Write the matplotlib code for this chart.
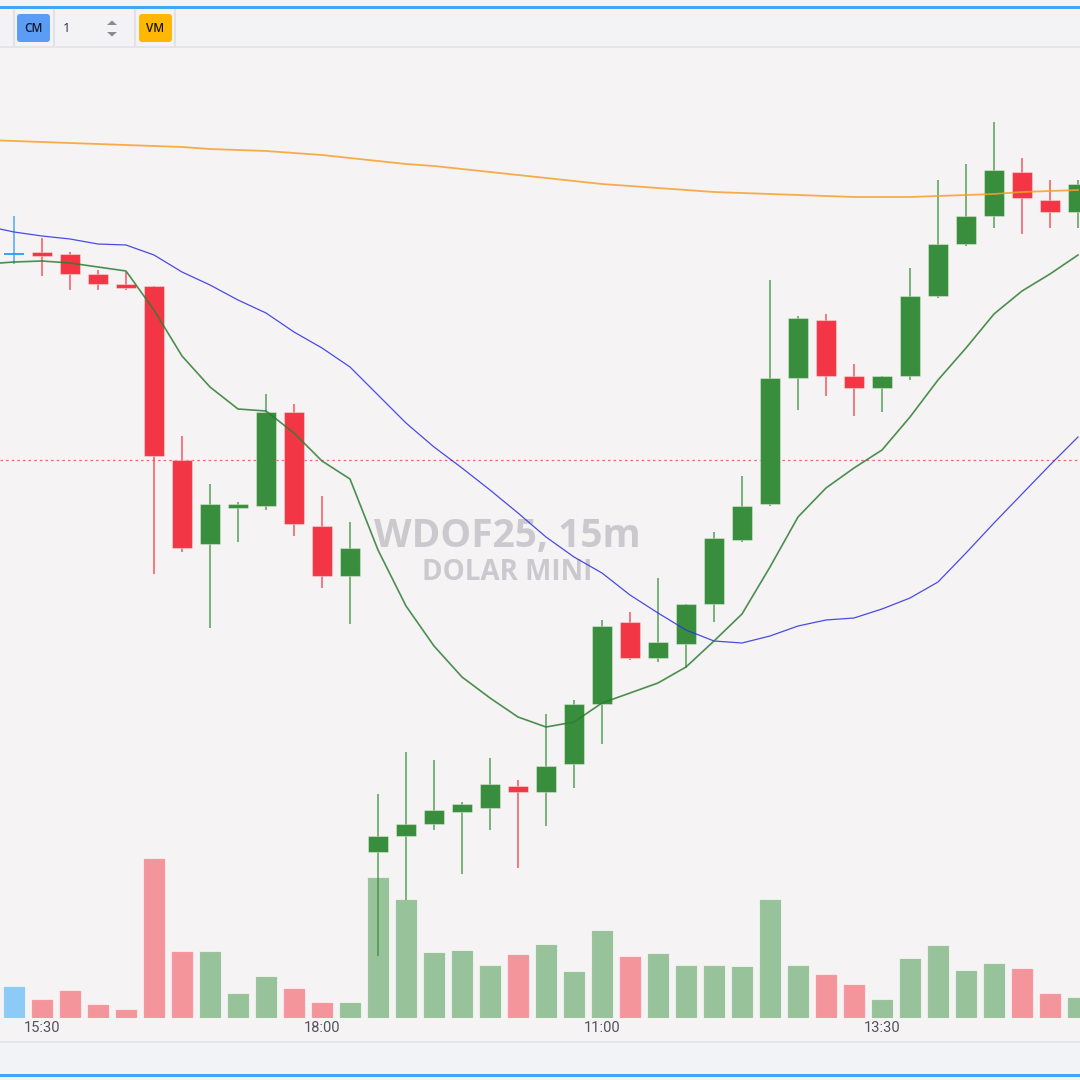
import matplotlib
matplotlib.use('Agg')
import matplotlib.pyplot as plt
from matplotlib.patches import Rectangle, FancyBboxPatch, Polygon
from matplotlib.lines import Line2D

# WDOF25 15m candles (open, high, low, close)
opens  = [6201.5, 6202, 6201.5, 6196.5, 6194, 6193.5, 6150, 6129, 6138, 6138.5,
          6162, 6133.5, 6121, 6052, 6056, 6059, 6062, 6063, 6068.5, 6067,
          6074, 6089, 6109.5, 6100.5, 6104, 6114, 6130, 6139, 6170.5, 6185,
          6171, 6168, 6171, 6191, 6204, 6211, 6222, 6215, 6212]
highs  = [6211, 6205.5, 6202, 6197.5, 6197, 6193.5, 6156, 6144, 6139.5, 6166.5,
          6164, 6141, 6134.5, 6066.5, 6077, 6075, 6064.5, 6075.5, 6070, 6086.5,
          6090, 6110, 6112, 6120.5, 6114, 6132, 6146, 6195, 6186, 6186.5,
          6174, 6171, 6198, 6220, 6224, 6234.5, 6225.5, 6220, 6220]
lows   = [6199, 6196, 6192.5, 6192.5, 6192.5, 6121.5, 6127, 6108, 6129.5, 6137.5,
          6131, 6118, 6109, 6026, 6040, 6057.5, 6046.5, 6057.5, 6048, 6058.5,
          6068, 6079, 6100, 6099.5, 6098, 6109.5, 6129.5, 6138.5, 6162.5, 6166,
          6161, 6162, 6170, 6190.5, 6203.5, 6208, 6206.5, 6208, 6208]
closes = [6201.5, 6201, 6196.5, 6194, 6193, 6151, 6128, 6139, 6139, 6162,
          6134, 6121, 6128, 6056, 6059, 6062.5, 6064, 6069, 6067, 6073.5,
          6089, 6108.5, 6100.5, 6104.5, 6114, 6130.5, 6138.5, 6170.5, 6185.5, 6171,
          6168, 6171, 6191, 6204, 6211, 6222.5, 6215.5, 6212, 6219]
volume = [32000, 19000, 28000, 14000, 9000, 160000, 67000, 67000, 25000, 42000,
          30000, 16000, 16000, 141000, 119000, 66000, 68000, 53000, 64000, 74000,
          47000, 88000, 62000, 65000, 53000, 53000, 52000, 119000, 53000, 44000,
          34000, 19000, 60000, 73000, 48000, 55000, 50000, 25000, 21000]

# moving averages as shown on the chart (first value = bar before the visible range)
ma_fast = [6199, 6199.5, 6199.75, 6199.25, 6198.25, 6197.25, 6187.5, 6176, 6168.25, 6162.75, 6162.25,
           6156.75, 6149.75, 6145.25, 6127.5, 6113.5, 6103.5, 6095.75, 6090.5, 6085.75, 6083.25,
           6084.5, 6089.25, 6091.75, 6094.25, 6098.25, 6104.75, 6111.5, 6123.25, 6135.75, 6143,
           6148, 6152.5, 6160.75, 6170, 6178, 6186.5, 6192.25, 6196.5, 6201.25]
ma_mid = [6208.5, 6207, 6206, 6205.25, 6204, 6203.75, 6201.25, 6197, 6193.75, 6190, 6186.75,
          6182, 6178, 6173.25, 6166.25, 6159.25, 6153.25, 6148, 6142.5, 6136.75, 6130.75,
          6125.75, 6121.75, 6116.25, 6111.75, 6107.5, 6104.75, 6104.25, 6106, 6108.5, 6110,
          6110.5, 6112.75, 6115.5, 6119.5, 6126.75, 6134.25, 6141.5, 6148.75, 6155.75]
ma_slow = [6230, 6229.75, 6229.5, 6229.25, 6229, 6228.75, 6228.5, 6228.25, 6227.75, 6227.5, 6227.25,
           6226.75, 6226.25, 6225.5, 6224.75, 6224, 6223.5, 6222.75, 6222, 6221.25, 6220.5,
           6219.75, 6219, 6218.5, 6218, 6217.5, 6217, 6216.75, 6216.5, 6216.25, 6216,
           6215.75, 6215.75, 6215.75, 6216, 6216.25, 6216.5, 6217, 6217.25, 6217.5]
ref_price = 6150

tick_pos = [1, 11, 21, 31]
tick_labels = ['15:30', '18:00', '11:00', '13:30']

UP = '#388e3c'
DOWN = '#f23645'
NEUTRAL = '#2a9af0'

W = H = 1080
def fx(px):
    return px / W
def fy(py):
    return 1 - py / H

fig = plt.figure(figsize=(10.8, 10.8), dpi=100, facecolor='#f3f3f3')

# page bands: top border, toolbar, chart, bottom bar
bands = [(0, 6, '#f3f3f3'), (6, 8.5, '#42a5f5'), (8.5, 46, '#f3f3f6'), (46, 48, '#e4e4ea'),
         (48, 1041, '#f5f3f4'), (1041, 1043, '#e6e6ea'), (1043, 1074, '#f2f3f7'),
         (1074, 1076.5, '#42a5f5'), (1076.5, 1080, '#f3f3f3')]
for y0, y1, c in bands:
    fig.add_artist(Rectangle((0, fy(y1)), 1, (y1 - y0) / H, color=c,
                             transform=fig.transFigure, zorder=-5, lw=0))

# toolbar
for x in (14, 54, 135, 175):
    fig.add_artist(Line2D([fx(x)] * 2, [fy(10), fy(45)], color='#e2e2e6', lw=1.5,
                          transform=fig.transFigure))
fig.add_artist(FancyBboxPatch((fx(17), fy(42)), fx(33), 28 / H,
                              boxstyle='round,pad=0,rounding_size=0.003',
                              fc='#5b9cf6', ec='none', transform=fig.transFigure))
fig.text(fx(33.5), fy(28), 'CM', ha='center', va='center', fontsize=8.5,
         fontweight='semibold', color='#131722', family='Open Sans')
fig.text(fx(67), fy(28), '1', ha='center', va='center', fontsize=9.5,
         color='#2a2e39', family='Open Sans')
fig.add_artist(Polygon([(fx(107), fy(25)), (fx(117), fy(25)), (fx(112), fy(20.5))],
                       closed=True, fc='#8a8a90', ec='none', transform=fig.transFigure))
fig.add_artist(Polygon([(fx(107), fy(32)), (fx(117), fy(32)), (fx(112), fy(36.5))],
                       closed=True, fc='#8a8a90', ec='none', transform=fig.transFigure))
fig.add_artist(FancyBboxPatch((fx(139), fy(42)), fx(33), 28 / H,
                              boxstyle='round,pad=0,rounding_size=0.003',
                              fc='#ffb703', ec='none', transform=fig.transFigure))
fig.text(fx(155.5), fy(28), 'VM', ha='center', va='center', fontsize=8.5,
         fontweight='semibold', color='#131722', family='Open Sans')

rect = [0, fy(1018), 1, (1018 - 48) / H]
xlim = (-0.5, -0.5 + W / 28)

# volume pane (underneath)
ax_v = fig.add_axes(rect)
ax_v.set_facecolor('#f5f3f4')
n = len(opens)
vcols = []
for i in range(n):
    if i == 0:
        vcols.append('#8ccbf5')
    elif closes[i] >= opens[i]:
        vcols.append('#98c39a')
    else:
        vcols.append('#f4959b')
ax_v.bar(range(n), volume, width=0.76, color=vcols, edgecolor=(1, 1, 1, 0.6), lw=0.8)
ax_v.set_xlim(*xlim)
ax_v.set_ylim(0, 970000)
ax_v.axis('off')
ax_v.text(507 / W, (1018 - 537) / 970, 'WDOF25, 15m', transform=ax_v.transAxes,
          ha='center', va='center', fontsize=28, fontweight='bold',
          color='#cbc9cd', family='Open Sans')
ax_v.text(507 / W, (1018 - 573) / 970, 'DOLAR MINI', transform=ax_v.transAxes,
          ha='center', va='center', fontsize=20, fontweight='bold',
          color='#cbc9cd', family='Open Sans')

# price pane
ax = fig.add_axes(rect)
ax.patch.set_alpha(0)
for i in range(n):
    o, h, l, c = opens[i], highs[i], lows[i], closes[i]
    if i == 0:
        col = NEUTRAL
    elif c > o or (c == o and c >= closes[i - 1]):
        col = UP
    else:
        col = DOWN
    ax.vlines(i, l, h, color=col, lw=1.4, alpha=0.65, zorder=2)
    body = abs(c - o)
    if body < 0.6:
        ax.hlines((o + c) / 2, i - 0.37, i + 0.37, color=col, lw=2 if i else 1.3, zorder=3)
    else:
        ax.bar(i, body, bottom=min(o, c), width=0.74, color=col,
               edgecolor=(1, 1, 1, 0.35), lw=0.8, zorder=3)

xs = list(range(-1, n))
ax.plot(xs, ma_slow, color='#f7a02c', lw=1.3, alpha=0.85, zorder=4)
ax.plot(xs, ma_mid, color='#2b2ee0', lw=0.9, alpha=0.85, zorder=4)
ax.plot(xs, ma_fast, color='#2e7d32', lw=1.2, alpha=0.85, zorder=4)
ax.axhline(ref_price, color=DOWN, lw=0.9, ls=(0, (2, 2.5)), alpha=0.75, zorder=1)

ax.set_xlim(*xlim)
ax.set_ylim(6010.5, 6253)
for s in ax.spines.values():
    s.set_visible(False)
ax.set_yticks([])
ax.set_xticks(tick_pos)
ax.set_xticklabels(tick_labels, family='Roboto')
ax.tick_params(axis='x', length=0, pad=2, labelsize=10.5, labelcolor='#50535e')

fig.savefig('out.png', dpi=100, facecolor=fig.get_facecolor())
